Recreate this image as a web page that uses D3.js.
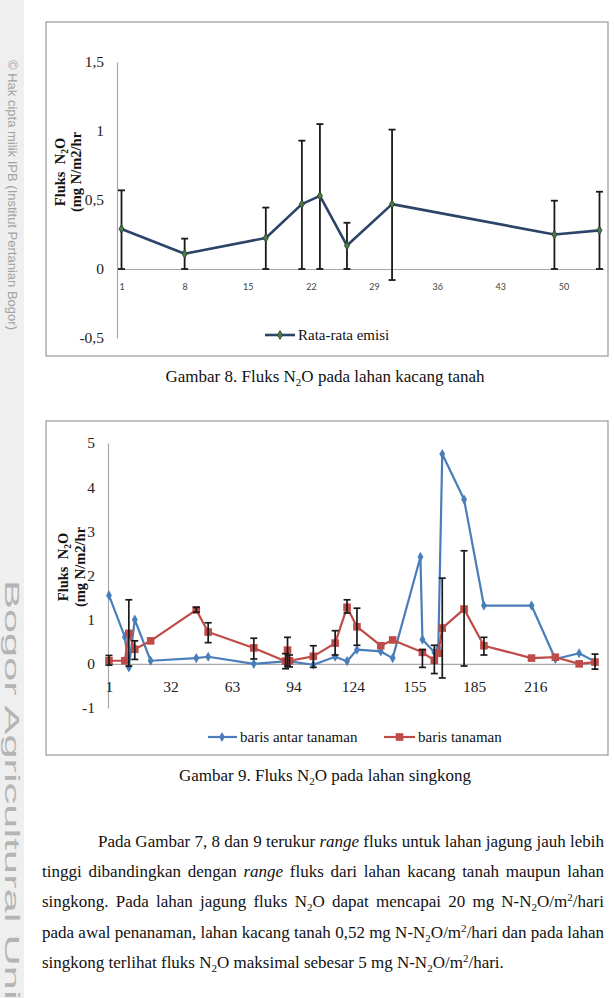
<!DOCTYPE html>
<html><head><meta charset="utf-8">
<script src="https://cdn.jsdelivr.net/npm/d3@7"></script>
<style>body{margin:0;background:#fff}svg{display:block}</style>
</head><body>
<svg id="page" width="614" height="998"></svg>
<script>
// ---------- Chart 8 data (kacang tanah) ----------
const ch1Days     = [1, 8, 17, 21, 23, 26, 31, 49, 54];
const ch1Mean     = [0.29, 0.11, 0.225, 0.47, 0.53, 0.17, 0.47, 0.25, 0.28];
const ch1ErrHigh  = [0.57, 0.22, 0.445, 0.93, 1.05, 0.335, 1.01, 0.495, 0.56];
const ch1ErrLow   = [0, 0, 0, 0, 0, 0, -0.08, 0, 0];
const ch1XTicks   = [1, 8, 15, 22, 29, 36, 43, 50];
const ch1YTicks   = [-0.5, 0, 0.5, 1, 1.5];
const ch1YLabels  = ["-0,5", "0", "0,5", "1", "1,5"];
const ch1Series   = "Rata-rata emisi";

// ---------- Chart 9 data (singkong) ----------
const antarDays = [1, 9, 11, 14, 22, 45, 51, 74, 91, 104, 115, 121, 126, 138, 144, 158, 159, 165, 167, 169, 180, 190, 214, 226, 238, 246];
const antarVals = [1.55, 0.61, -0.08, 1.0, 0.07, 0.13, 0.16, 0.0, 0.06, -0.02, 0.16, 0.06, 0.32, 0.28, 0.13, 2.42, 0.55, 0.26, 0.36, 4.75, 3.72, 1.32, 1.32, 0.11, 0.24, 0.05];
const tanDays   = [1, 9, 11, 14, 22, 45, 51, 74, 90, 91, 92, 104, 115, 121, 126, 138, 144, 159, 165, 167, 169, 180, 190, 214, 226, 238, 246];
const tanVals   = [0.07, 0.07, 0.69, 0.33, 0.52, 1.22, 0.72, 0.36, 0.06, 0.31, 0.07, 0.17, 0.47, 1.28, 0.84, 0.41, 0.54, 0.26, 0.08, 0.24, 0.81, 1.24, 0.41, 0.13, 0.15, 0.0, 0.04];
const tanErrLow = [-0.03, null, -0.05, 0.10, null, 1.17, 0.48, 0.11, -0.11, -0.05, -0.07, -0.08, 0.20, 1.15, 0.42, null, null, -0.08, -0.22, null, -0.32, -0.05, 0.20, null, null, null, -0.12];
const tanErrHigh= [0.19, null, 1.45, 0.52, null, 1.28, 0.93, 0.58, 0.23, 0.60, 0.20, 0.41, 0.75, 1.45, 1.26, null, null, 0.32, 0.42, null, 1.94, 2.56, 0.60, null, null, null, 0.22];
const ch2XTicks = [1, 32, 63, 94, 124, 155, 185, 216];
const ch2YTicks = [-1, 0, 1, 2, 3, 4, 5];
const ch2Names  = ["baris antar tanaman", "baris tanaman"];

const serif = "'Liberation Serif', 'Times New Roman', serif";
const sans  = "'Liberation Sans', Arial, sans-serif";
const svg = d3.select("#page");
svg.append("rect").attr("width",614).attr("height",998).attr("fill","#fff");

// ---------- watermark strip ----------
svg.append("rect").attr("x",0).attr("y",0).attr("width",24).attr("height",998).attr("fill","#efefef");
svg.append("text").attr("transform","translate(8,60) rotate(90)")
  .attr("font-family",sans).attr("font-size",12).attr("fill","#a3a3a3")
  .attr("textLength",270).attr("lengthAdjust","spacingAndGlyphs")
  .text("\u00A9 Hak cipta milik IPB (Institut Pertanian Bogor)");
svg.append("text").attr("transform","translate(5,580) rotate(90)")
  .attr("font-family",sans).attr("font-size",21).attr("fill","#b4b4b4")
  .attr("textLength",545).attr("lengthAdjust","spacingAndGlyphs")
  .text("Bogor Agricultural University");

// ---------- helpers ----------
function richText(parent, x, y, runs, size, opts = {}) {
  const t = parent.append("text").attr("x", x).attr("y", y)
    .attr("font-family", serif).attr("font-size", size).attr("fill", opts.fill || "#111")
    .attr("font-weight", opts.bold ? "bold" : null);
  if (opts.anchor) t.attr("text-anchor", opts.anchor);
  if (opts.transform) t.attr("transform", opts.transform);
  let shift = 0;
  runs.forEach(r => {
    const s = typeof r === "string" ? {t: r} : r;
    const target = s.sub ? size * 0.22 : s.sup ? -size * 0.38 : 0;
    const ts = t.append("tspan").text(s.t);
    if (target !== shift) ts.attr("dy", target - shift);
    shift = target;
    if (s.i) ts.attr("font-style", "italic");
    if (s.sub || s.sup) ts.attr("font-size", size * 0.65);
  });
  if (opts.justify) {
    const w = t.node().getComputedTextLength();
    const spaces = runs.map(r => (typeof r === "string" ? r : r.t)).join("").split(" ").length - 1;
    t.attr("word-spacing", (opts.justify - w) / spaces);
  }
  return t;
}
const N2O = () => ["N", {t:"2", sub:true}, "O"];

// ---------- frames ----------
svg.append("rect").attr("x",46).attr("y",22).attr("width",562).attr("height",334)
  .attr("fill","none").attr("stroke","#a0a0a0").attr("stroke-width",1.3);
svg.append("rect").attr("x",46).attr("y",421).attr("width",562).attr("height",334)
  .attr("fill","none").attr("stroke","#a0a0a0").attr("stroke-width",1.3);

// ================= CHART 8 =================
const g1 = svg.append("g");
const x1 = d3.scaleLinear().domain([0.5, 54.5]).range([117, 604]);
const y1 = d3.scaleLinear().domain([-0.5, 1.5]).range([338, 62]);

const ay1 = g1.append("g").attr("transform", `translate(${x1(0.5)},0)`)
  .call(d3.axisLeft(y1).tickValues(ch1YTicks).tickFormat((d,i)=>ch1YLabels[i]).tickSize(0).tickPadding(13));
ay1.select(".domain").attr("stroke","#a8a8a8").attr("stroke-width",1.2);
ay1.selectAll("text").attr("font-family",serif).attr("font-size",15.5).attr("fill","#222");

const ax1 = g1.append("g").attr("transform", `translate(0,${y1(0)})`)
  .call(d3.axisBottom(x1).tickValues(ch1XTicks).tickSize(0).tickPadding(15));
ax1.select(".domain").attr("stroke","#a8a8a8").attr("stroke-width",1.2);
ax1.selectAll("text").attr("font-family","Lato, 'Open Sans', sans-serif").attr("font-size",9).attr("fill","#444");

// error bars
const d1 = ch1Days.map((d,i)=>({d, v:ch1Mean[i], lo:ch1ErrLow[i], hi:ch1ErrHigh[i]}));
const eb1 = g1.append("g").attr("stroke","#1a1a1a").attr("stroke-width",1.8);
d1.forEach(p => {
  eb1.append("line").attr("x1",x1(p.d)).attr("x2",x1(p.d)).attr("y1",y1(p.lo)).attr("y2",y1(p.hi));
  [p.lo,p.hi].forEach(v => eb1.append("line").attr("x1",x1(p.d)-3.5).attr("x2",x1(p.d)+3.5).attr("y1",y1(v)).attr("y2",y1(v)));
});
g1.append("path").datum(d1).attr("fill","none").attr("stroke","#2b4468").attr("stroke-width",2.6)
  .attr("stroke-linejoin","round")
  .attr("d", d3.line().x(p=>x1(p.d)).y(p=>y1(p.v)));
g1.selectAll("path.m1").data(d1).join("path").attr("class","m1")
  .attr("transform",p=>`translate(${x1(p.d)},${y1(p.v)})`)
  .attr("d", d3.symbol(d3.symbolDiamond, 22)).attr("fill","#4f7a4a").attr("stroke","#203a22").attr("stroke-width",0.8);

// y title
richText(g1, 0, 0, ["Fluks \u00A0", ...N2O()], 14.5, {bold:true, anchor:"middle", transform:"translate(65,172) rotate(-90)"});
richText(g1, 0, 0, ["(mg N/m2/hr"], 14.5, {bold:true, anchor:"middle", transform:"translate(81,172) rotate(-90)"});

// legend
g1.append("line").attr("x1",265).attr("x2",295).attr("y1",335).attr("y2",335).attr("stroke","#2b4468").attr("stroke-width",2.6);
g1.append("path").attr("transform","translate(280,335)").attr("d", d3.symbol(d3.symbolDiamond, 22)).attr("fill","#4f7a4a").attr("stroke","#203a22").attr("stroke-width",0.8);
g1.append("text").attr("x",298).attr("y",340).attr("font-family",serif).attr("font-size",15).attr("fill","#111").text(ch1Series);

// caption 8
richText(svg, 325, 382, ["Gambar 8. Fluks ", ...N2O(), " pada lahan kacang tanah"], 17, {anchor:"middle"});

// ================= CHART 9 =================
const g2 = svg.append("g");
const x2 = d3.scaleLinear().domain([0.5, 246.5]).range([108, 596]);
const y2 = d3.scaleLinear().domain([-1, 5]).range([708, 443]);

const ay2 = g2.append("g").attr("transform", `translate(${x2(0.5)},0)`)
  .call(d3.axisLeft(y2).tickValues(ch2YTicks).tickFormat(d=>String(d)).tickSize(0).tickPadding(13));
ay2.select(".domain").attr("stroke","#a8a8a8").attr("stroke-width",1.2);
ay2.selectAll("text").attr("font-family",serif).attr("font-size",15.5).attr("fill","#222");

const ax2 = g2.append("g").attr("transform", `translate(0,${y2(0)})`)
  .call(d3.axisBottom(x2).tickValues(ch2XTicks).tickSize(0).tickPadding(17));
ax2.select(".domain").attr("stroke","#a8a8a8").attr("stroke-width",1.2);
ax2.selectAll("text").attr("font-family",serif).attr("font-size",15.5).attr("fill","#222");

const blue = "#4a7ebb", red = "#be4b48";
const dA = antarDays.map((d,i)=>({d, v:antarVals[i]}));
const dT = tanDays.map((d,i)=>({d, v:tanVals[i], lo:tanErrLow[i], hi:tanErrHigh[i]}));
const line2 = d3.line().x(p=>x2(p.d)).y(p=>y2(p.v));

g2.append("path").datum(dA).attr("fill","none").attr("stroke",blue).attr("stroke-width",2.2).attr("stroke-linejoin","round").attr("d",line2);
g2.selectAll("path.mA").data(dA).join("path").attr("class","mA")
  .attr("transform",p=>`translate(${x2(p.d)},${y2(p.v)})`)
  .attr("d", d3.symbol(d3.symbolDiamond, 30)).attr("fill",blue);

g2.append("path").datum(dT).attr("fill","none").attr("stroke",red).attr("stroke-width",2.2).attr("stroke-linejoin","round").attr("d",line2);
g2.selectAll("rect.mT").data(dT).join("rect").attr("class","mT")
  .attr("x",p=>x2(p.d)-3.8).attr("y",p=>y2(p.v)-3.8).attr("width",7.6).attr("height",7.6).attr("fill",red);

const eb2 = g2.append("g").attr("stroke","#1a1a1a").attr("stroke-width",1.7);
dT.filter(p=>p.lo!==null).forEach(p => {
  eb2.append("line").attr("x1",x2(p.d)).attr("x2",x2(p.d)).attr("y1",y2(p.lo)).attr("y2",y2(p.hi));
  [p.lo,p.hi].forEach(v => eb2.append("line").attr("x1",x2(p.d)-3.5).attr("x2",x2(p.d)+3.5).attr("y1",y2(v)).attr("y2",y2(v)));
});

// y title
richText(g2, 0, 0, ["Fluks \u00A0", ...N2O()], 14.5, {bold:true, anchor:"middle", transform:"translate(68,567) rotate(-90)"});
richText(g2, 0, 0, ["(mg N/m2/hr"], 14.5, {bold:true, anchor:"middle", transform:"translate(85,567) rotate(-90)"});

// legend
g2.append("line").attr("x1",208).attr("x2",237).attr("y1",737).attr("y2",737).attr("stroke",blue).attr("stroke-width",2.2);
g2.append("path").attr("transform","translate(222,737)").attr("d", d3.symbol(d3.symbolDiamond, 30)).attr("fill",blue);
g2.append("text").attr("x",240).attr("y",742).attr("font-family",serif).attr("font-size",15).attr("fill","#111").text(ch2Names[0]);
g2.append("line").attr("x1",384).attr("x2",415).attr("y1",737).attr("y2",737).attr("stroke",red).attr("stroke-width",2.2);
g2.append("rect").attr("x",395.7).attr("y",733.2).attr("width",7.6).attr("height",7.6).attr("fill",red);
g2.append("text").attr("x",418).attr("y",742).attr("font-family",serif).attr("font-size",15).attr("fill","#111").text(ch2Names[1]);

// caption 9
richText(svg, 325, 781, ["Gambar 9. Fluks ", ...N2O(), " pada lahan singkong"], 17, {anchor:"middle"});

// ---------- paragraph ----------
const sub2 = {t:"2", sub:true}, sup2 = {t:"2", sup:true};
richText(svg, 98, 847, ["Pada Gambar 7, 8 dan 9 terukur ", {t:"range", i:true}, " fluks untuk lahan jagung jauh lebih"], 17, {justify: 506});
richText(svg, 42, 877, ["tinggi dibandingkan dengan ", {t:"range", i:true}, " fluks dari lahan kacang tanah maupun lahan"], 17, {justify: 562});
richText(svg, 42, 907, ["singkong. Pada lahan jagung fluks N", sub2, "O dapat mencapai 20 mg N-N", sub2, "O/m", sup2, "/hari"], 17, {justify: 562});
richText(svg, 42, 938, ["pada awal penanaman, lahan kacang tanah 0,52 mg N-N", sub2, "O/m", sup2, "/hari dan pada lahan"], 17, {justify: 562});
richText(svg, 42, 968, ["singkong terlihat fluks N", sub2, "O maksimal sebesar 5 mg N-N", sub2, "O/m", sup2, "/hari."], 17);
</script>
</body></html>
